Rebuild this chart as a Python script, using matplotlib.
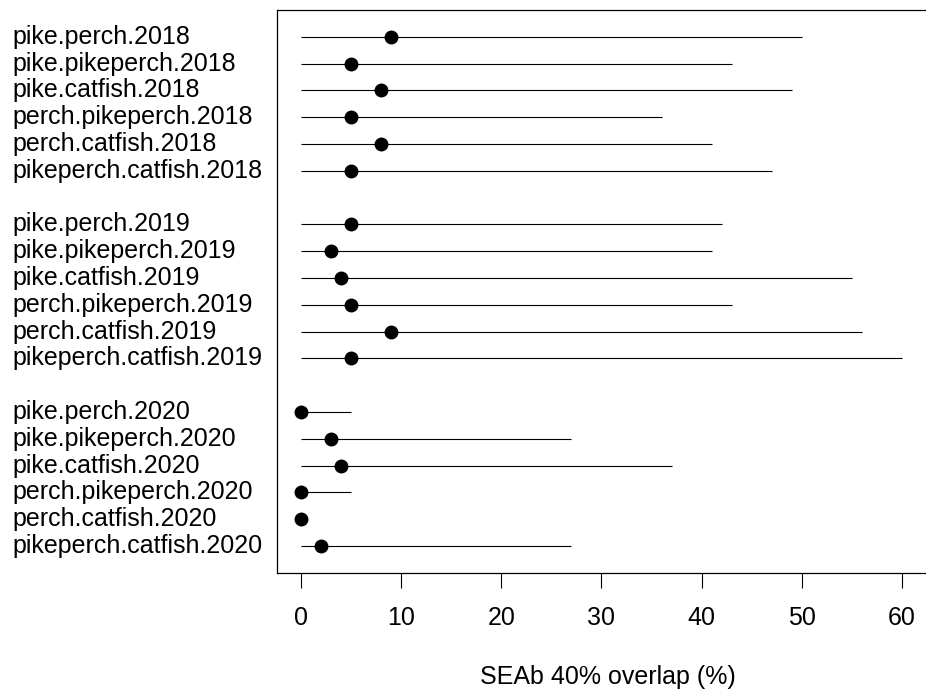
import matplotlib
matplotlib.use("Agg")
import matplotlib.pyplot as plt
import matplotlib.transforms as mtransforms

plt.rcParams['font.family'] = ['Liberation Sans', 'DejaVu Sans']

labels = [
    "pike.perch.2018", "pike.pikeperch.2018", "pike.catfish.2018",
    "perch.pikeperch.2018", "perch.catfish.2018", "pikeperch.catfish.2018",
    "pike.perch.2019", "pike.pikeperch.2019", "pike.catfish.2019",
    "perch.pikeperch.2019", "perch.catfish.2019", "pikeperch.catfish.2019",
    "pike.perch.2020", "pike.pikeperch.2020", "pike.catfish.2020",
    "perch.pikeperch.2020", "perch.catfish.2020", "pikeperch.catfish.2020",
]
median = [9, 5, 8, 5, 8, 5,
          5, 3, 4, 5, 9, 5,
          0, 3, 4, 0, 0, 2]
lower = [0, 0, 0, 0, 0, 0,
         0, 0, 0, 0, 0, 0,
         0, 0, 0, 0, 0, 0]
upper = [50, 43, 49, 36, 41, 47,
         42, 41, 55, 43, 56, 60,
         5, 27, 37, 5, 0, 27]
xticks = [0, 10, 20, 30, 40, 50, 60]
xlabel = "SEAb 40% overlap (%)"

W, H = 926, 695
fig = plt.figure(figsize=(W / 100, H / 100), dpi=100)
left, right, top, bottom = 277, 926.5, 10, 572.7
ax = fig.add_axes([left / W, 1 - bottom / H, (right - left) / W, (bottom - top) / H])

# rows: 6 per group with a blank row between groups
ypos = []
for g in range(3):
    for i in range(6):
        ypos.append(1 + g * 7 + i)

for y, lo, hi, m in zip(ypos, lower, upper, median):
    ax.plot([lo, hi], [y, y], color='black', lw=0.8, solid_capstyle='butt', zorder=2)
    ax.plot([m], [y], 'o', color='black', markersize=9, zorder=3)

ax.set_xlim(-2.4, 62.45)
ax.set_ylim(21, 0)

ax.set_xticks(xticks)
ax.set_xticklabels([str(t) for t in xticks], fontsize=18)
ax.tick_params(axis='x', length=11, width=0.8, pad=13, color='black')
ax.set_yticks([])
for s in ax.spines.values():
    s.set_linewidth(0.9)
ax.spines['right'].set_visible(False)

trans = mtransforms.blended_transform_factory(fig.transFigure, ax.transData)
for y, lab in zip(ypos, labels):
    ax.text(12 / W, y, lab, transform=trans, ha='left', va='center', fontsize=18)

fig.text(608 / W, 1 - 677 / H, xlabel, ha='center', va='center', fontsize=18)

fig.savefig("out.png", dpi=100)
